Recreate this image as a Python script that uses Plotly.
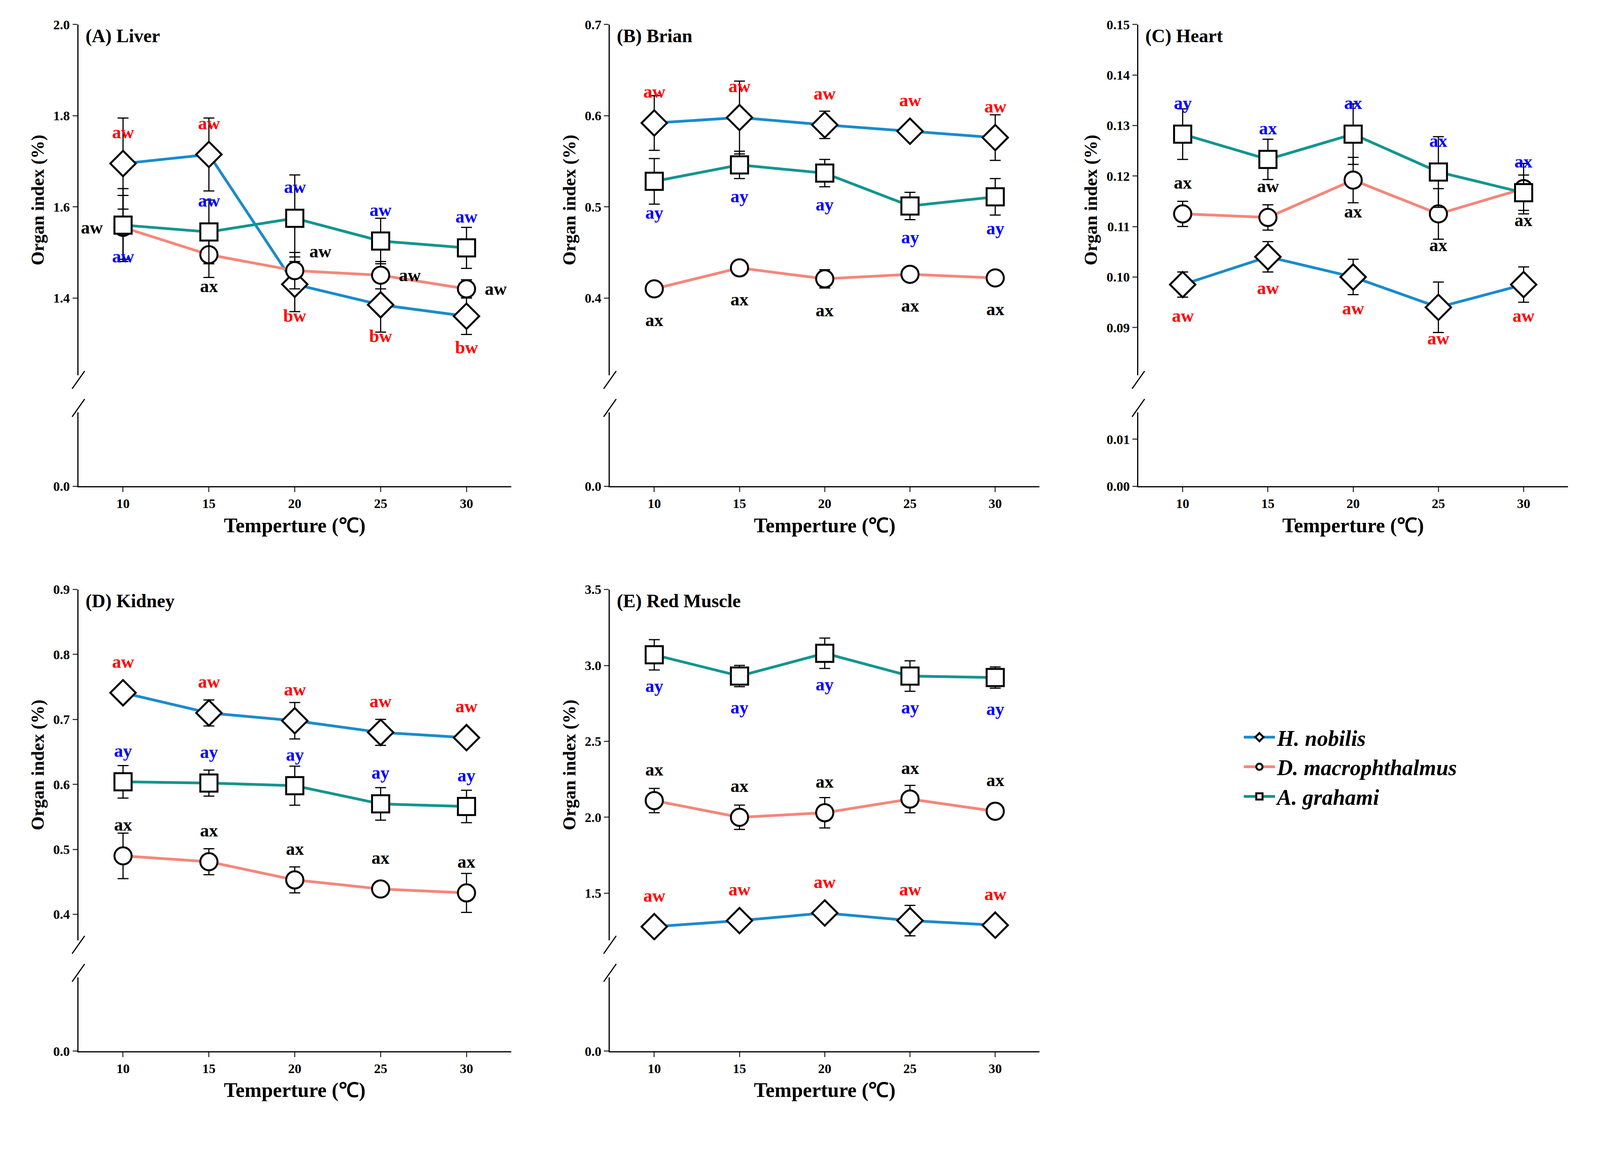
import plotly.graph_objects as go

temps = [10, 15, 20, 25, 30]
series_names = ["H. nobilis", "D. macrophthalmus", "A. grahami"]
line_colors = ["#1a8bcc", "#f4877a", "#12958f"]
symbols = ["diamond", "circle", "square"]
label_colors = ["red", "black", "blue"]

# order per panel: H, D, A
titles = ["(A) Liver", "(B) Brian", "(C) Heart", "(D) Kidney", "(E) Red Muscle"]
means = [
    [[1.695, 1.715, 1.43, 1.385, 1.36], [1.555, 1.495, 1.46, 1.45, 1.42], [1.56, 1.545, 1.575, 1.525, 1.51]],
    [[0.592, 0.598, 0.590, 0.583, 0.576], [0.41, 0.433, 0.421, 0.426, 0.422], [0.528, 0.546, 0.537, 0.501, 0.511]],
    [[0.0985, 0.104, 0.100, 0.094, 0.0985], [0.1125, 0.1118, 0.1192, 0.1125, 0.1175], [0.1283, 0.1233, 0.1283, 0.1208, 0.1167]],
    [[0.741, 0.71, 0.698, 0.68, 0.672], [0.49, 0.481, 0.453, 0.439, 0.433], [0.604, 0.602, 0.598, 0.57, 0.566]],
    [[1.28, 1.32, 1.37, 1.32, 1.29], [2.11, 2.0, 2.03, 2.12, 2.04], [3.07, 2.93, 3.08, 2.93, 2.92]],
]
errs = [
    [[0.1, 0.08, 0.06, 0.06, 0.04], [0.07, 0.05, 0.04, 0.03, 0.02], [0.08, 0.07, 0.095, 0.05, 0.045]],
    [[0.03, 0.04, 0.015, 0.005, 0.025], [0.005, 0.005, 0.01, 0.003, 0.003], [0.025, 0.015, 0.015, 0.015, 0.02]],
    [[0.0025, 0.003, 0.0035, 0.005, 0.0035], [0.0025, 0.0025, 0.0045, 0.005, 0.005], [0.005, 0.004, 0.006, 0.007, 0.0035]],
    [[0.012, 0.02, 0.028, 0.02, 0.01], [0.035, 0.02, 0.02, 0.008, 0.03], [0.025, 0.02, 0.03, 0.025, 0.025]],
    [[0.03, 0.04, 0.05, 0.1, 0.03], [0.08, 0.08, 0.1, 0.09, 0.04], [0.1, 0.07, 0.1, 0.1, 0.07]],
]
labels = [
    [["aw", "aw", "bw", "bw", "bw"], ["aw", "ax", "aw", "aw", "aw"], ["aw", "aw", "aw", "aw", "aw"]],
    [["aw"] * 5, ["ax"] * 5, ["ay"] * 5],
    [["aw"] * 5, ["ax", "aw", "ax", "ax", "ax"], ["ay", "ax", "ax", "ax", "ax"]],
    [["aw"] * 5, ["ax"] * 5, ["ay"] * 5],
    [["aw"] * 5, ["ax"] * 5, ["ay"] * 5],
]
# label placement: u=above, d=below, l=left, r=right, ur=up-right
places = [
    [["u", "u", "d", "d", "d"], ["l", "d", "ur", "r", "r"], ["d", "u", "u", "u", "u"]],
    [["u"] * 5, ["d"] * 5, ["d"] * 5],
    [["d"] * 5, ["u", "u", "d", "d", "d"], ["u"] * 5],
    [["u"] * 5, ["u"] * 5, ["u"] * 5],
    [["u"] * 5, ["u"] * 5, ["d"] * 5],
]
upper_ranges = [[1.23, 2.0], [0.315, 0.7], [0.0805, 0.15], [0.36, 0.9], [1.19, 3.5]]
upper_ticks = [[1.4, 1.6, 1.8, 2.0], [0.4, 0.5, 0.6, 0.7], [0.09, 0.10, 0.11, 0.12, 0.13, 0.14, 0.15],
               [0.4, 0.5, 0.6, 0.7, 0.8, 0.9], [1.5, 2.0, 2.5, 3.0, 3.5]]
tick_fmt = [".1f", ".1f", ".2f", ".1f", ".1f"]
lower_ranges = [[0, 0.1], [0, 0.04], [0, 0.0157], [0, 0.05], [0, 0.2]]
lower_ticks = [[0], [0], [0, 0.01], [0], [0]]

xdom = [[0.048, 0.324], [0.387, 0.661], [0.724, 0.998], [0.048, 0.324], [0.387, 0.661]]
ydom = [[0.571, 0.987]] * 3 + [[0.062, 0.478]] * 2

font = "Liberation Serif"
fig = go.Figure()
layout = {}
shapes = []
annots = []
offs = {"u": (0, 80), "d": (0, -80), "l": (-80, 0), "r": (75, 0), "ur": (65, 50)}

for p in range(5):
    xi, yu, yl = p + 1, p + 1, p + 6
    xs = "" if xi == 1 else str(xi)
    d0, d1 = ydom[p]
    h = d1 - d0
    lo_dom = [d0, d0 + 0.16 * h]
    up_dom = [d0 + 0.24 * h, d1]
    for s in range(3):
        fig.add_trace(go.Scatter(
            x=temps, y=means[p][s], mode="lines+markers",
            name=series_names[s], showlegend=(p == 0),
            line=dict(color=line_colors[s], width=7),
            marker=dict(symbol=symbols[s], size=50 if s == 0 else 44, color="white",
                        line=dict(width=5, color="black")),
            error_y=dict(type="data", array=errs[p][s], color="black", thickness=3, width=14),
            xaxis="x" + xs, yaxis="y" + str(yu)))
        for k in range(5):
            dx, dy = offs[places[p][s][k]]
            annots.append(dict(x=temps[k], y=means[p][s][k], xref="x" + xs, yref="y" + str(yu),
                               text="<b>" + labels[p][s][k] + "</b>", showarrow=False, xshift=dx, yshift=dy,
                               font=dict(family=font, size=46, color=label_colors[s])))
    fig.add_trace(go.Scatter(x=[20], y=[0], mode="markers", marker=dict(opacity=0),
                             showlegend=False, hoverinfo="skip",
                             xaxis="x" + xs, yaxis="y" + str(yl)))
    axfont = dict(family=font, size=34, color="black", weight="bold")
    layout["xaxis" + xs] = dict(domain=xdom[p], anchor="y" + str(yl), range=[7.4, 32.6],
                                tickvals=temps, ticks="outside", ticklen=12, tickwidth=3,
                                showline=True, linewidth=3, linecolor="black", showgrid=False,
                                zeroline=False, tickfont=axfont,
                                title=dict(text="<b>Temperture (\u2103)</b>",
                                           font=dict(family=font, size=52), standoff=20))
    layout["yaxis" + str(yu)] = dict(domain=up_dom, anchor="x" + xs, range=upper_ranges[p],
                                     tickvals=upper_ticks[p], tickformat=tick_fmt[p],
                                     ticks="outside", ticklen=12, tickwidth=3, showline=True,
                                     linewidth=3, linecolor="black", showgrid=False, zeroline=False,
                                     tickfont=axfont,
                                     title=dict(text="<b>Organ index (%)</b>",
                                                font=dict(family=font, size=46), standoff=10))
    layout["yaxis" + str(yl)] = dict(domain=lo_dom, anchor="x" + xs, range=lower_ranges[p],
                                     tickvals=lower_ticks[p], tickformat=tick_fmt[p],
                                     ticks="outside", ticklen=12, tickwidth=3, showline=True,
                                     linewidth=3, linecolor="black", showgrid=False, zeroline=False,
                                     tickfont=axfont)
    xa = xdom[p][0]
    for yb in (lo_dom[1] + 0.004, up_dom[0] - 0.004):
        shapes.append(dict(type="line", xref="paper", yref="paper", x0=xa - 0.004, x1=xa + 0.004,
                           y0=yb - 0.008, y1=yb + 0.008, line=dict(color="black", width=3)))
    annots.append(dict(x=xa + 0.004, y=d1, xref="paper", yref="paper", xanchor="left", yanchor="top",
                       text="<b>" + titles[p] + "</b>", showarrow=False,
                       font=dict(family=font, size=48, color="black")))

fig.update_layout(**layout)
fig.update_layout(
    shapes=shapes, annotations=annots, autosize=True,
    margin=dict(l=0, r=0, t=0, b=0),
    plot_bgcolor="white", paper_bgcolor="white",
    font=dict(family=font, color="black"),
    legend=dict(x=0.79, y=0.36, xanchor="left", yanchor="top", tracegroupgap=20,
                font=dict(family=font, size=56, color="black"), itemwidth=80,
                bgcolor="rgba(0,0,0,0)"),
)
for tr in fig.data[:3]:
    tr.name = "<b><i>" + tr.name + "</i></b>"
fig.write_html("out.html", default_width="98vw", default_height="97vh")
